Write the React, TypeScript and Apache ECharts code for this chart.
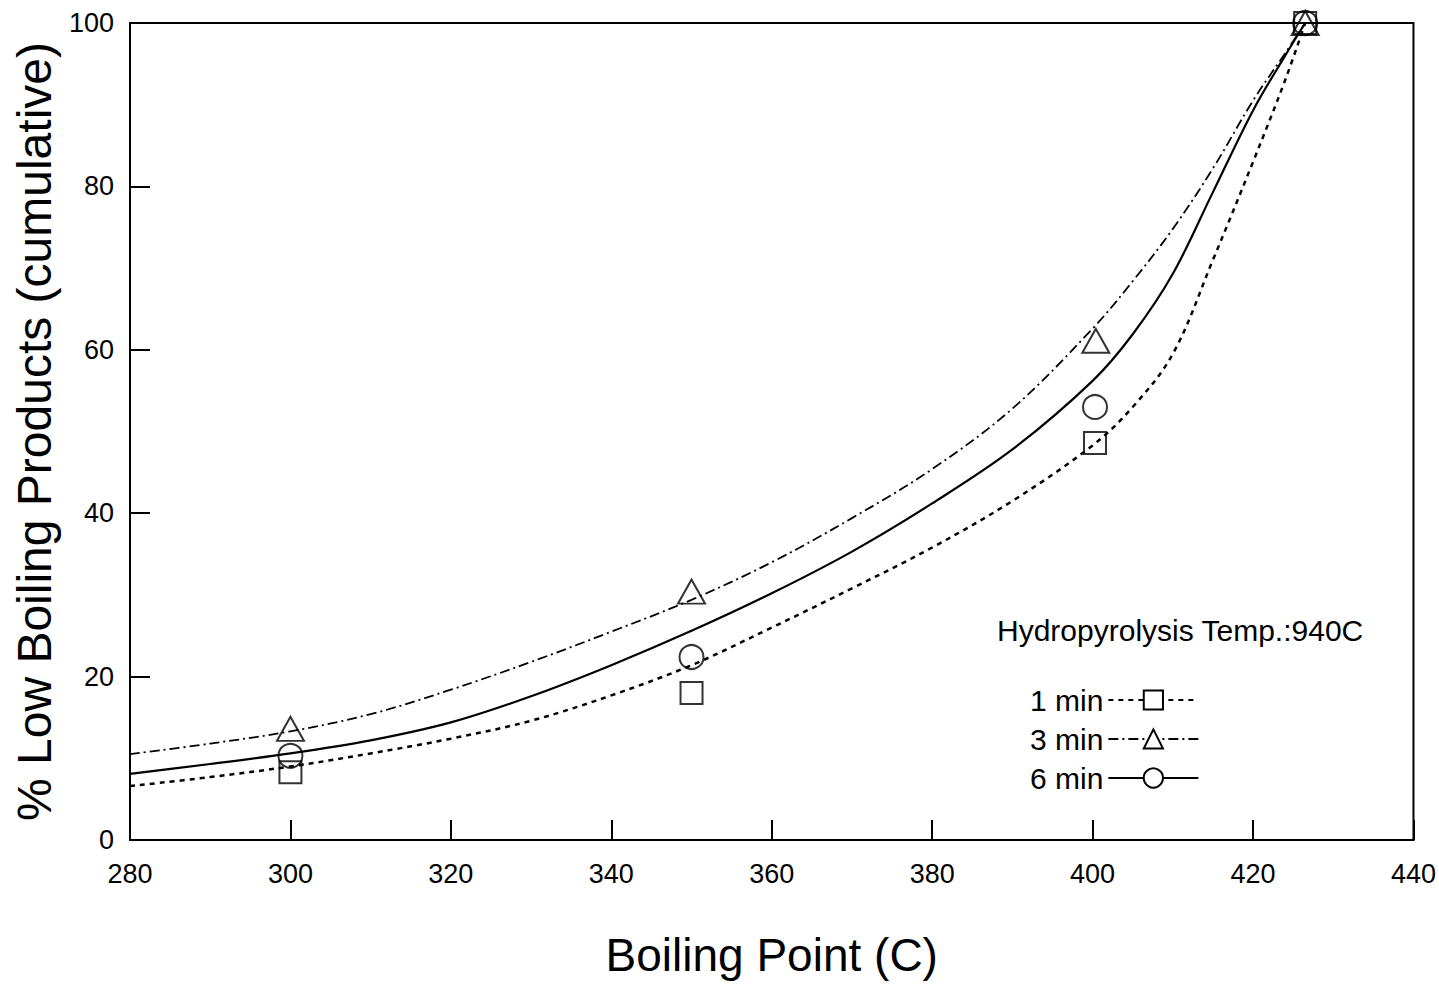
import React, { useEffect, useRef } from "react";
import * as echarts from "echarts";

// Measured points
const pointX1 = [300, 350, 400.3, 426.5];
const pointY1 = [8.3, 18.0, 48.6, 100];
const pointX3 = [300, 350, 400.4, 426.5];
const pointY3 = [13.6, 30.4, 61.1, 100];
const pointX6 = [300, 350, 400.3, 426.5];
const pointY6 = [10.3, 22.4, 53.0, 100];

// Fitted curves
const curveX = [280, 290, 300, 310, 320, 330, 340, 350, 360, 370, 380, 390, 400, 405, 410, 415, 420, 424, 426.5];
const curve1 = [6.6, 7.7, 9.0, 10.6, 12.4, 14.6, 17.7, 21.4, 26.0, 30.8, 35.8, 41.5, 48.3, 53.0, 59.5, 71.0, 83.0, 93.0, 100];
const curve3 = [10.5, 11.8, 13.3, 15.4, 18.4, 21.8, 25.5, 29.4, 34.0, 39.4, 45.4, 52.8, 62.6, 68.4, 74.8, 82.2, 90.5, 96.3, 100];
const curve6 = [8.1, 9.3, 10.6, 12.2, 14.4, 17.6, 21.4, 25.6, 30.2, 35.3, 41.2, 47.8, 56.2, 61.9, 69.3, 79.3, 89.3, 96.0, 100];

const seriesNames = ["1 min", "3 min", "6 min"];
const xTicks = { min: 280, max: 440, interval: 20 };
const yTicks = { min: 0, max: 100, interval: 20 };
const xTitle = "Boiling Point (C)";
const yTitle = "% Low Boiling Products (cumulative)";
const noteText = "Hydropyrolysis Temp.:940C";

const FONT = "'Liberation Sans', Arial, Helvetica, sans-serif";

const pairs = (xs: number[], ys: number[]) => xs.map((x, i) => [x, ys[i]]);

export default function App() {
  const ref = useRef<HTMLDivElement>(null);
  useEffect(() => {
    if (!ref.current) return;
    const chart = echarts.init(ref.current, undefined, { renderer: "svg" });
    const markerStyle = { color: "rgba(0,0,0,0)", borderColor: "#000", borderWidth: 2 };
    const curveSeries = (name: string, data: number[], symbol: string, lineType: any, width: number) => ({
      name,
      type: "line",
      data: pairs(curveX, data),
      smooth: 0.35,
      showSymbol: false,
      symbol,
      lineStyle: { color: "#000", type: lineType, width },
      itemStyle: { color: "#000" },
      z: 2,
    });
    const scatterSeries = (name: string, xs: number[], ys: number[], symbol: string, size: any) => ({
      name,
      type: "scatter",
      data: pairs(xs, ys),
      symbol,
      symbolSize: size,
      itemStyle: markerStyle,
      z: 3,
    });
    chart.setOption({
      animation: false,
      backgroundColor: "#fff",
      textStyle: { fontFamily: FONT, color: "#000" },
      grid: {
        left: 130,
        right: 24,
        top: 23,
        bottom: 144,
        show: true,
        borderColor: "#000",
        borderWidth: 2,
        backgroundColor: "transparent",
      },
      legend: {
        data: seriesNames,
        orient: "vertical",
        left: 1025,
        top: 680,
        align: "right",
        itemWidth: 90,
        itemHeight: 24,
        itemGap: 9,
        textStyle: { fontSize: 30, fontFamily: FONT, color: "#000" },
        selectedMode: false,
      },
      graphic: [
        {
          type: "text",
          left: 997,
          top: 615,
          style: { text: noteText, fontSize: 30, fontFamily: FONT, fill: "#000" },
        },
      ],
      xAxis: {
        type: "value",
        min: xTicks.min,
        max: xTicks.max,
        interval: xTicks.interval,
        name: xTitle,
        nameLocation: "middle",
        nameGap: 92,
        nameTextStyle: { fontSize: 46, fontFamily: FONT, color: "#000" },
        axisLine: { show: true, lineStyle: { color: "#000", width: 2 } },
        axisTick: { show: true, inside: true, length: 20, lineStyle: { color: "#000", width: 2 } },
        axisLabel: { fontSize: 27, fontFamily: FONT, color: "#000", margin: 20 },
        splitLine: { show: false },
      },
      yAxis: {
        type: "value",
        min: yTicks.min,
        max: yTicks.max,
        interval: yTicks.interval,
        name: yTitle,
        nameLocation: "middle",
        nameGap: 72,
        nameTextStyle: { fontSize: 48, fontFamily: FONT, color: "#000" },
        axisLine: { show: true, lineStyle: { color: "#000", width: 2 } },
        axisTick: { show: true, inside: true, length: 20, lineStyle: { color: "#000", width: 2 } },
        axisLabel: { fontSize: 27, fontFamily: FONT, color: "#000", margin: 16 },
        splitLine: { show: false },
      },
      series: [
        curveSeries("1 min", curve1, "emptyRect", [5, 5], 2.5),
        curveSeries("3 min", curve3, "emptyTriangle", [10, 4, 2, 4], 1.8),
        curveSeries("6 min", curve6, "emptyCircle", "solid", 2.2),
        scatterSeries("1 min pts", pointX1, pointY1, "rect", 22),
        scatterSeries("3 min pts", pointX3, pointY3, "triangle", [27, 24]),
        scatterSeries("6 min pts", pointX6, pointY6, "circle", 24),
      ],
    });
    return () => chart.dispose();
  }, []);
  return (
    <div
      ref={ref}
      style={{ position: "absolute", left: 0, top: 0, width: 1439, height: 984 }}
    />
  );
}
